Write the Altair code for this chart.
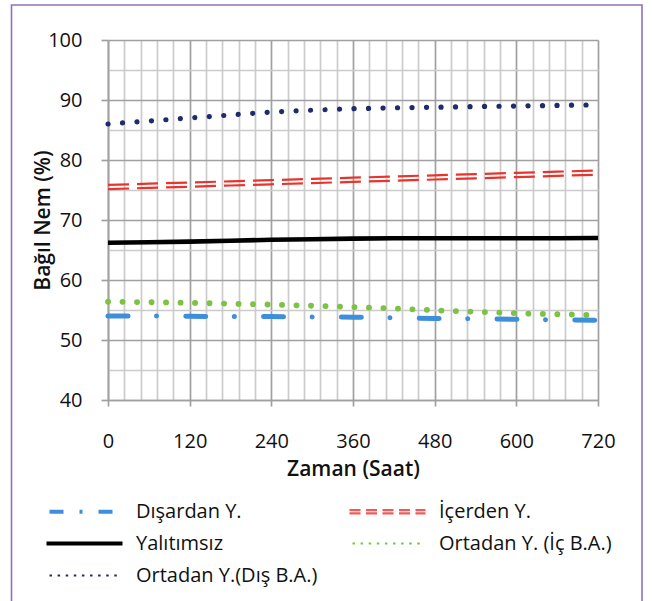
import altair as alt
import pandas as pd

# ---- data ----
hours = [0, 60, 120, 180, 240, 300, 360, 420, 480, 540, 600, 660, 720]
disardan = [54.0, 54.0, 53.95, 53.9, 53.9, 53.85, 53.8, 53.7, 53.6, 53.55, 53.45, 53.35, 53.3]
icerden = [75.5, 75.7, 75.9, 76.1, 76.3, 76.5, 76.7, 76.9, 77.1, 77.3, 77.5, 77.7, 77.9]
yalitimsiz = [66.2, 66.3, 66.4, 66.55, 66.7, 66.8, 66.9, 66.95, 66.95, 66.95, 66.95, 66.95, 67.0]
ic_ba = [56.4, 56.3, 56.2, 56.05, 55.9, 55.7, 55.5, 55.25, 54.95, 54.7, 54.45, 54.3, 54.15]
dis_ba = [86.0, 86.5, 87.0, 87.5, 88.0, 88.3, 88.55, 88.7, 88.8, 88.9, 89.0, 89.1, 89.2]

series_names = ["Dışardan Y.", "İçerden Y.", "Yalıtımsız",
                "Ortadan Y. (İç B.A.)", "Ortadan Y.(Dış B.A.)"]
series_values = [disardan, icerden, yalitimsiz, ic_ba, dis_ba]

# legend order (legend is filled column by column: 3 rows x 2 columns)
legend_order = ["Dışardan Y.", "Yalıtımsız", "Ortadan Y.(Dış B.A.)",
                "İçerden Y.", "Ortadan Y. (İç B.A.)"]

x_ticks = list(range(0, 721, 24))
y_ticks = list(range(40, 101, 5))

rows = []
for name, vals in zip(series_names, series_values):
    for h, v in zip(hours, vals):
        rows.append({"saat": h, "nem": v, "seri": name})
df = pd.DataFrame(rows)

FONT = "Open Sans"
MAJOR = "#a0a0a0"
MINOR = "#cbcbcb"

x_major = "datum.value % 120 === 0"
y_major = "datum.value % 10 === 0"

x_enc = alt.X(
    "saat:Q",
    scale=alt.Scale(domain=[0, 720], nice=False, zero=False),
    axis=alt.Axis(
        values=x_ticks,
        title="Zaman (Saat)",
        labelExpr="datum.value % 120 === 0 ? datum.label : ''",
        labelOverlap=False,
        labelFlush=False,
        labelFont=FONT, labelFontSize=20, labelColor="#111",
        labelPadding=25,
        gridColor={"condition": {"test": x_major, "value": MAJOR}, "value": MINOR},
        gridWidth=1.7,
        tickOpacity={"condition": {"test": x_major, "value": 1}, "value": 0},
        tickColor=MAJOR, tickWidth=1.7, tickSize=6,
        domainColor=MAJOR, domainWidth=1.7,
        titleFont=FONT, titleFontSize=21, titleFontWeight=600, titleColor="#111",
        titleBaseline="middle", titleY=69,
    ),
)
y_enc = alt.Y(
    "nem:Q",
    scale=alt.Scale(domain=[40, 100], nice=False, zero=False),
    axis=alt.Axis(
        values=y_ticks,
        title="Bağıl Nem (%)",
        labelExpr="datum.value % 10 === 0 ? datum.label : ''",
        labelOverlap=False,
        labelFlush=False,
        labelFont=FONT, labelFontSize=20, labelColor="#111",
        labelPadding=19,
        gridColor={"condition": {"test": y_major, "value": MAJOR}, "value": MINOR},
        gridWidth=1.7,
        tickOpacity={"condition": {"test": y_major, "value": 1}, "value": 0},
        tickColor=MAJOR, tickWidth=1.7, tickSize=7,
        domainColor=MAJOR, domainWidth=1.7,
        titleFont=FONT, titleFontSize=21, titleFontWeight=600, titleColor="#111",
        titleBaseline="middle", titleX=-65,
    ),
)

base = alt.Chart(df).encode(x=x_enc, y=y_enc)

def sel(name):
    return base.transform_filter(alt.datum.seri == name)

blue = sel(series_names[0]).mark_line(color="#3d8fdc", strokeWidth=5, strokeCap="round",
                                       strokeDash=[20, 28.5, 0.1, 29.2])
red_a = sel(series_names[1]).mark_line(color="#e8342c", strokeWidth=2.2, yOffset=-2.1,
                                        strokeDash=[21, 8])
red_b = sel(series_names[1]).mark_line(color="#e8342c", strokeWidth=2.2, yOffset=2.1,
                                        strokeDash=[21, 8])
black = sel(series_names[2]).mark_line(color="#000000", strokeWidth=4.6)
green = sel(series_names[3]).mark_line(color="#7cc243", strokeWidth=5.8, strokeCap="round",
                                        strokeDash=[0.1, 14.4])
navy = sel(series_names[4]).mark_line(color="#1f2c6c", strokeWidth=5.2, strokeCap="round",
                                       strokeDash=[0.1, 14.4])

# ---- legend (built from a symbol-only layer with no drawn points) ----
# styles listed in legend_order
leg_shapes = ["M-3.5,-0.09H3.5M-3.5,0.09H3.5",
              "M-3.8,-0.09H3.8M-3.8,0.09H3.8",
              "M-3.5,0H3.5",
              "M-3.8,-0.17H3.8M-3.8,0.17H3.8",
              "M-3.5,0H3.5"]
leg_colors = ["#3d8fdc", "#000000", "#1f2c6c", "#ee5a5a", "#7cc243"]
leg_dashes = [[14, 16, 3, 16], [1, 0], [2.5, 5.6], [11, 5.5], [2.5, 5.6]]

legend = alt.Legend(
    title=None, orient="none", legendX=-35, legendY=460, columns=2,
    symbolSize=400, symbolStrokeWidth=2.2, labelOffset=40,
    labelFont=FONT, labelFontSize=20, labelColor="#111", labelLimit=400,
    columnPadding=27, rowPadding=10, padding=0,
)

legend_layer = alt.Chart(df).transform_filter("false").mark_point(
    filled=False, opacity=1, strokeWidth=2.2
).encode(
    shape=alt.Shape("seri:N", sort=legend_order,
                    scale=alt.Scale(domain=legend_order, range=leg_shapes), legend=legend),
    color=alt.Color("seri:N", sort=legend_order,
                    scale=alt.Scale(domain=legend_order, range=leg_colors), legend=legend),
    strokeDash=alt.StrokeDash("seri:N", sort=legend_order,
                              scale=alt.Scale(domain=legend_order, range=leg_dashes), legend=legend),
)

frame = alt.Chart(pd.DataFrame({"k": [0]})).mark_rect(
    filled=False, stroke="#9070bb", strokeWidth=1.6
).encode(x=alt.value(-96.5), x2=alt.value(534), y=alt.value(-35), y2=alt.value(600))

chart = alt.layer(frame, navy, red_a, red_b, black, green, blue, legend_layer).properties(
    width=490, height=360,
    autosize=alt.AutoSizeParams(type="none"),
    padding={"left": 108, "top": 40, "right": 54, "bottom": 201},
).configure_view(stroke=None).configure(background="white")

chart.save("out.html", embed_options={"renderer": "svg", "actions": False})
